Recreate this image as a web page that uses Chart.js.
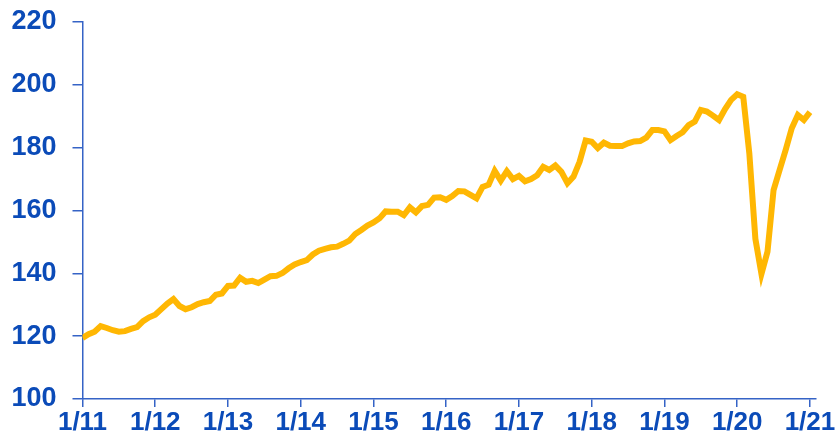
<!DOCTYPE html>
<html>
<head>
<meta charset="utf-8">
<script src="https://cdn.jsdelivr.net/npm/chart.js@4/dist/chart.umd.min.js"></script>
<style>
  html, body { margin:0; padding:0; background:#fff; }
  #wrap { width:835px; height:432px; }
</style>
</head>
<body>
<div id="wrap"><canvas id="c" width="835" height="432"></canvas></div>
<script>
// monthly index, 0 = Jan 2011
const yearLabels = ['1/11','1/12','1/13','1/14','1/15','1/16','1/17','1/18','1/19','1/20','1/21'];
const yTicks = [100, 120, 140, 160, 180, 200, 220];
const values = [
  119.4, 120.6, 121.4, 123.2, 122.6, 121.9, 121.4, 121.6, 122.3, 122.9, 124.8, 126.0, // 2011
  126.8, 128.6, 130.4, 131.8, 129.6, 128.6, 129.2, 130.2, 130.8, 131.2, 133.2, 133.6, // 2012
  136.0, 136.1, 138.6, 137.3, 137.6, 136.9, 138.0, 139.1, 139.2, 140.1, 141.6, 142.8, // 2013
  143.6, 144.2, 146.0, 147.2, 147.8, 148.3, 148.5, 149.4, 150.4, 152.5, 153.8, 155.2, // 2014
  156.2, 157.5, 159.7, 159.6, 159.6, 158.5, 161.0, 159.4, 161.4, 161.8, 164.1, 164.2, // 2015
  163.4, 164.6, 166.2, 166.1, 165.0, 163.9, 167.5, 168.2, 172.6, 169.5, 172.5, 170.0, // 2016
  171.0, 169.3, 170.0, 171.2, 173.9, 172.9, 174.3, 172.3, 168.7, 170.8, 175.5, 182.3, // 2017
  181.9, 179.9, 181.6, 180.6, 180.5, 180.5, 181.4, 182.0, 182.1, 183.2, 185.6, 185.6, // 2018
  185.2, 182.4, 183.7, 184.9, 187.2, 188.3, 192.0, 191.5, 190.2, 188.8, 192.3, 195.2, // 2019
  197.0, 196.2, 178.2, 151.0, 139.8, 146.9, 166.5, 172.9, 179.3, 186.2, 190.4, 188.8, // 2020
  191.3                                                                                // 2021
];

const blueText = '#0b4bb8';
const blueAxis = '#3563c6';
const pts = values.map((v, i) => ({ x: i, y: v }));

new Chart(document.getElementById('c'), {
  type: 'line',
  data: { datasets: [{ data: pts, borderColor: '#ffb703', borderWidth: 6, pointRadius: 0, tension: 0, fill: false }] },
  options: {
    responsive: false,
    animation: false,
    layout: { padding: { top: 22, right: 19, left: 0, bottom: 0 } },
    plugins: { legend: { display: false }, tooltip: { enabled: false } },
    scales: {
      x: {
        type: 'linear', min: 0, max: 121,
        afterBuildTicks: s => { s.ticks = yearLabels.map((l, i) => ({ value: i * 12 })); },
        afterFit: s => { s.height = 33; s.paddingLeft = 0; s.paddingRight = 0; },
        grid: { drawOnChartArea: false, tickLength: 8, color: blueAxis, lineWidth: 1.5 },
        border: { color: blueAxis, width: 1.5 },
        ticks: {
          color: blueText, padding: 0, maxRotation: 0, autoSkip: false,
          font: { family: 'Liberation Sans, Arial', size: 26, weight: 'bold' },
          callback: (v) => yearLabels[Math.round(v / 12)] ?? ''
        }
      },
      y: {
        min: 100, max: 220,
        afterBuildTicks: s => { s.ticks = yTicks.map(v => ({ value: v })); },
        afterFit: s => { s.width = 82.5; s.paddingTop = 0; s.paddingBottom = 0; },
        grid: { drawOnChartArea: false, tickLength: 10, color: blueAxis, lineWidth: 1.5 },
        border: { color: blueAxis, width: 1.5 },
        ticks: {
          color: blueText, padding: 16,
          font: { family: 'Liberation Sans, Arial', size: 27, weight: 'bold' }
        }
      }
    }
  }
});
</script>
</body>
</html>
